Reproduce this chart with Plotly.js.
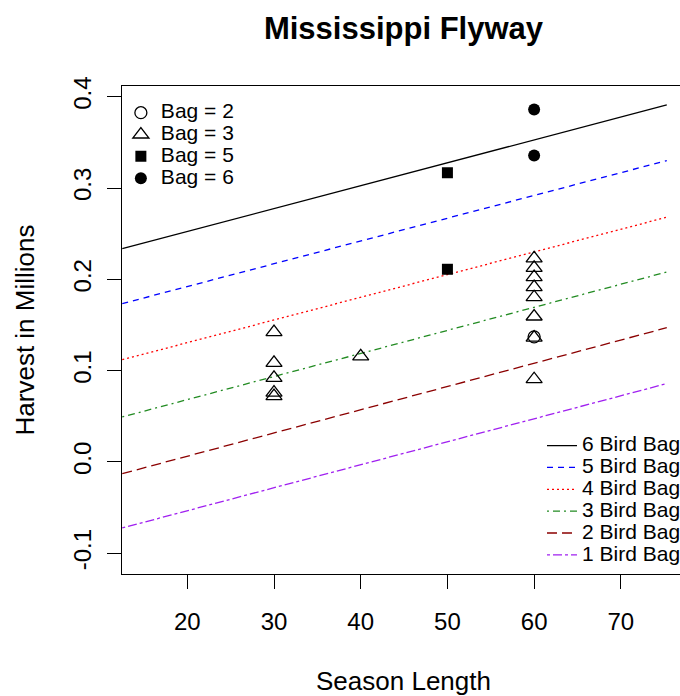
<!DOCTYPE html>
<html>
<head>
<meta charset="utf-8">
<script src="https://cdn.plot.ly/plotly-3.0.1.min.js"></script>
<style>
html, body { margin: 0; padding: 0; overflow: hidden; background: #fff; }
#chart { width: 700px; height: 696px; }
</style>
</head>
<body>
<div id="chart"></div>
<script>
// ---- data ----
var lineX = [12.5, 75.3];
var bird6 = [0.2336, 0.391];
var bird5 = [0.1734, 0.330];
var bird4 = [0.112, 0.268];
var bird3 = [0.0493, 0.208];
var bird2 = [-0.0128, 0.147];
var bird1 = [-0.0723, 0.0858];

var bag2X = [60];
var bag2Y = [0.137];
var bag3X = [30, 30, 30, 30, 30, 40, 60, 60, 60, 60, 60, 60, 60, 60];
var bag3Y = [0.1421, 0.1085, 0.0921, 0.0760, 0.0721, 0.1156, 0.2230, 0.2126, 0.2025, 0.1915, 0.1804, 0.1593, 0.1361, 0.0906];
var bag5X = [50, 50];
var bag5Y = [0.3167, 0.211];
var bag6X = [60, 60];
var bag6Y = [0.386, 0.3355];

var lineNames = ['6 Bird Bag', '5 Bird Bag', '4 Bird Bag', '3 Bird Bag', '2 Bird Bag', '1 Bird Bag'];
var pointNames = ['Bag = 2', 'Bag = 3', 'Bag = 5', 'Bag = 6'];

var xTicks = [20, 30, 40, 50, 60, 70];
var yTicks = [-0.1, 0.0, 0.1, 0.2, 0.3, 0.4];
var yTickText = ['-0.1', '0.0', '0.1', '0.2', '0.3', '0.4'];

var FONT = 'Liberation Sans, Arial, Helvetica, sans-serif';
function big(s) { return '<span style="font-size:21px">' + s + '</span>'; }

function lineTrace(y, name, color, dash) {
  return { x: lineX, y: y, mode: 'lines', name: big(name), legend: 'legend2',
           line: { color: color, width: 1.3, dash: dash }, hoverinfo: 'skip' };
}

var traces = [
  lineTrace(bird6, lineNames[0], '#000000', 'solid'),
  lineTrace(bird5, lineNames[1], '#0000FF', '6px,5px'),
  lineTrace(bird4, lineNames[2], '#FF0000', '2px,3px'),
  lineTrace(bird3, lineNames[3], '#228B22', '2px,4px,7px,4px'),
  lineTrace(bird2, lineNames[4], '#8B0000', '10px,5px'),
  lineTrace(bird1, lineNames[5], '#A020F0', '3px,3px,9px,3px'),
  { x: bag2X, y: bag2Y, mode: 'markers', name: big(pointNames[0]), legend: 'legend',
    marker: { symbol: 'circle-open', size: 12, color: '#000', line: { width: 1.3, color: '#000' } } },
  { x: bag3X, y: bag3Y, mode: 'markers', name: big(pointNames[1]), legend: 'legend',
    marker: { symbol: 'triangle-up-open', size: 14, color: '#000', line: { width: 1.3, color: '#000' } } },
  { x: bag5X, y: bag5Y, mode: 'markers', name: big(pointNames[2]), legend: 'legend',
    marker: { symbol: 'square', size: 11, color: '#000' } },
  { x: bag6X, y: bag6Y, mode: 'markers', name: big(pointNames[3]), legend: 'legend',
    marker: { symbol: 'circle', size: 12, color: '#000' } }
];

var layout = {
  width: 700, height: 696,
  margin: { l: 122, r: 15, t: 86, b: 122 },
  paper_bgcolor: '#fff', plot_bgcolor: '#fff',
  font: { family: FONT, color: '#000' },
  title: { text: 'Mississippi Flyway', font: { family: FONT, size: 31, weight: 'bold', color: '#000' },
           x: 0.5, xref: 'paper', xanchor: 'center', y: 1 - 28 / 696, yref: 'container', yanchor: 'middle' },
  xaxis: {
    range: [12.47, 77.4], tickvals: xTicks, ticks: 'outside', ticklen: 14, tickwidth: 1, tickcolor: '#000',
    showline: true, mirror: true, linecolor: '#000', linewidth: 1, showgrid: false, zeroline: false,
    tickfont: { family: FONT, size: 24 }, ticklabelstandoff: 12,
    title: { text: 'Season Length', font: { family: FONT, size: 26 }, standoff: 39 }
  },
  yaxis: {
    range: [-0.1227, 0.4117], tickvals: yTicks, ticktext: yTickText, tickangle: -90,
    ticks: 'outside', ticklen: 14, tickwidth: 1, tickcolor: '#000',
    showline: true, mirror: true, linecolor: '#000', linewidth: 1, showgrid: false, zeroline: false,
    tickfont: { family: FONT, size: 24 }, ticklabelstandoff: 6,
    title: { text: 'Harvest in Millions', font: { family: FONT, size: 26 }, standoff: 27 }
  },
  legend: {
    x: -0.002, xanchor: 'left', y: 0.978, yanchor: 'top', bgcolor: 'rgba(0,0,0,0)',
    font: { family: FONT, size: 14.5 }, borderwidth: 0
  },
  legend2: {
    x: 0.746, xanchor: 'left', y: 0.2957, yanchor: 'top', bgcolor: 'rgba(0,0,0,0)',
    font: { family: FONT, size: 14.5 }, borderwidth: 0
  },
  showlegend: true
};

Plotly.newPlot('chart', traces, layout, { displayModeBar: false, staticPlot: true });
</script>
</body>
</html>
